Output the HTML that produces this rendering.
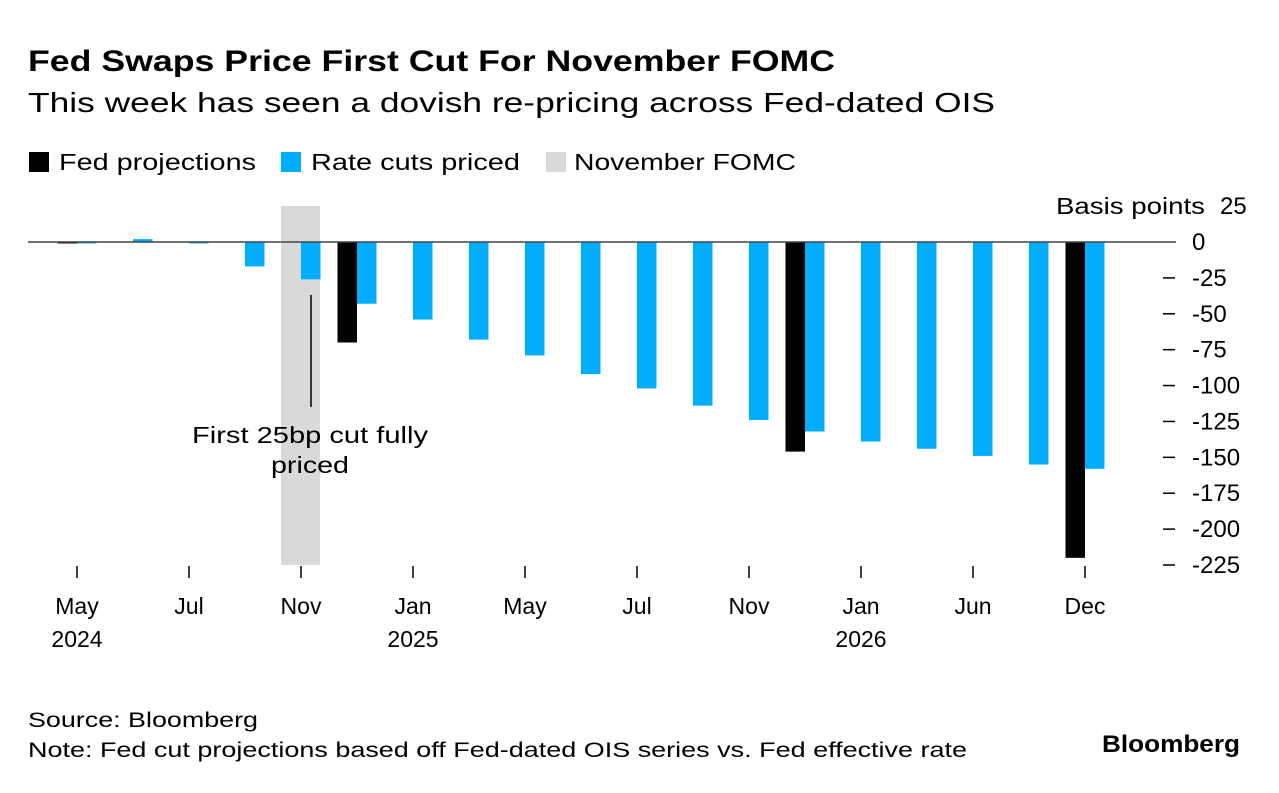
<!DOCTYPE html>
<html><head><meta charset="utf-8"><style>
body{margin:0;background:#fff;font-family:"Liberation Sans",sans-serif;}
svg text{font-family:"Liberation Sans",sans-serif;}
</style></head><body>
<svg width="1279" height="788" xmlns="http://www.w3.org/2000/svg">
<text x="28" y="71" font-size="30" font-weight="bold" fill="#000" textLength="807" lengthAdjust="spacingAndGlyphs">Fed Swaps Price First Cut For November FOMC</text>
<text x="28" y="112" font-size="28" fill="#000" textLength="967" lengthAdjust="spacingAndGlyphs">This week has seen a dovish re-pricing across Fed-dated OIS</text>
<g>
<rect x="29" y="152" width="20" height="20" fill="#000"/>
<text x="59" y="170" font-size="23" textLength="197" lengthAdjust="spacingAndGlyphs">Fed projections</text>
<rect x="281" y="152" width="20" height="20" fill="#00adff"/>
<text x="311" y="170" font-size="23" textLength="209" lengthAdjust="spacingAndGlyphs">Rate cuts priced</text>
<rect x="546" y="152" width="20" height="20" fill="#d9d9d9"/>
<text x="574" y="170" font-size="23" textLength="222" lengthAdjust="spacingAndGlyphs">November FOMC</text>
</g>
<rect x="281" y="206" width="39" height="359" fill="#d9d9d9"/>
<g id="bars"></g>
<line x1="28" y1="242" x2="1176" y2="242" stroke="#444" stroke-width="1.5"/>
<g id="yaxis"></g>
<g id="xaxis"></g>
<line x1="311" y1="295" x2="311" y2="407" stroke="#000" stroke-width="1.5"/>
<text x="310" y="443" font-size="23" text-anchor="middle" textLength="236" lengthAdjust="spacingAndGlyphs">First 25bp cut fully</text>
<text x="310" y="473" font-size="23" text-anchor="middle" textLength="78" lengthAdjust="spacingAndGlyphs">priced</text>
<text x="28" y="727" font-size="21" textLength="230" lengthAdjust="spacingAndGlyphs">Source: Bloomberg</text>
<text x="28" y="757" font-size="21" textLength="939" lengthAdjust="spacingAndGlyphs">Note: Fed cut projections based off Fed-dated OIS series vs. Fed effective rate</text>
<text x="1102" y="752" font-size="24" font-weight="bold" textLength="138" lengthAdjust="spacingAndGlyphs">Bloomberg</text>
</svg>
<script>
const cutsPriced=[-1,2,-1,-17,-26,-43,-54,-68,-79,-92,-102,-114,-124,-132,-139,-144,-149,-155,-158];
const fedIdx=[0,5,13,18];
const fedVals=[-1,-70,-146,-220];
const yTicks=[25,0,-25,-50,-75,-100,-125,-150,-175,-200,-225];
const xTickIdx=[0,2,4,6,8,10,12,14,16,18];
const xLabels=["May","Jul","Nov","Jan","May","Jul","Nov","Jan","Jun","Dec"];
const xYears=[["2024",0],["2025",6],["2026",14]];
const NS="http://www.w3.org/2000/svg";
const y=v=>242-v*(323/225);
const xb=i=>77+56*i;
const BW=19.5;
function mk(t,a,p){const e=document.createElementNS(NS,t);for(const k in a)e.setAttribute(k,a[k]);p.appendChild(e);return e;}
const bars=document.getElementById('bars');
cutsPriced.forEach((v,i)=>{const r=mk('rect',{x:xb(i),y:Math.min(y(v),y(0)),width:BW,height:Math.abs(y(v)-y(0)),fill:'#00adff'},bars);

});
fedIdx.forEach((idx,k)=>{const v=fedVals[k];const r=mk('rect',{x:xb(idx)-BW,y:Math.min(y(v),y(0)),width:BW,height:Math.abs(y(v)-y(0)),fill:'#000'},bars);

});
const ya=document.getElementById('yaxis');
yTicks.forEach(v=>{
if(v!==25&&v!==0){const l=mk('line',{x1:1163,x2:1175,y1:y(v),y2:y(v),stroke:'#000','stroke-width':1.5},ya);

}
const t=mk('text',{x:(v===25?1220:1192),y:y(v)+8,'font-size':24},ya);t.textContent=String(v);

});
const bp=mk('text',{x:1056,y:y(25)+8,'font-size':23,textLength:149,lengthAdjust:'spacingAndGlyphs'},ya);bp.textContent='Basis points';


const xa=document.getElementById('xaxis');
xTickIdx.forEach((idx,k)=>{const x=xb(idx);
const l=mk('line',{x1:x,x2:x,y1:566,y2:578,stroke:'#000','stroke-width':1.5},xa);


const t=mk('text',{x:x,y:614,'font-size':23,'text-anchor':'middle'},xa);t.textContent=xLabels[k];

});
xYears.forEach(([yr,idx])=>{const t=mk('text',{x:xb(idx),y:647,'font-size':23,'text-anchor':'middle'},xa);t.textContent=yr;

});
</script>
</body></html>
